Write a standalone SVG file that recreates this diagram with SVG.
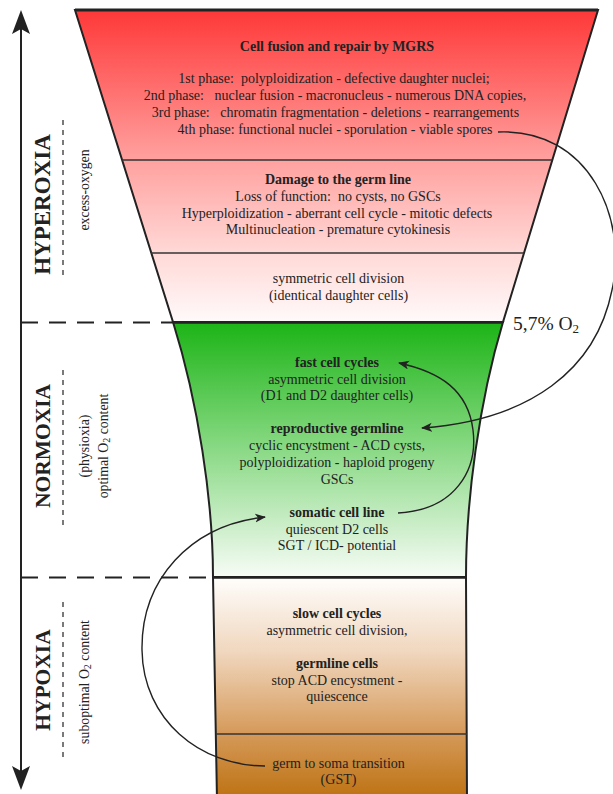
<svg xmlns="http://www.w3.org/2000/svg" width="613" height="794" viewBox="0 0 613 794">
<style>
text{font-family:"Liberation Serif","Times New Roman",serif;fill:#222;}
.t{font-size:14px;text-anchor:middle;white-space:pre;}
.b{font-weight:bold;}
.big{font-size:21.5px;font-weight:bold;text-anchor:middle;}
.sub{font-size:13.8px;text-anchor:middle;}
.edge{stroke:#222;stroke-width:2;}
.sep{fill:none;stroke:#333;stroke-width:1.3;}
.conn{fill:none;stroke:#222;stroke-width:1.4;}
.dash{fill:none;stroke:#222;stroke-width:2.2;stroke-dasharray:17 11;}
.vdash{fill:none;stroke:#333;stroke-width:1.3;stroke-dasharray:5 5;}
</style>
<defs>
<linearGradient id="gRed" x1="0" y1="10" x2="0" y2="322" gradientUnits="userSpaceOnUse">
<stop offset="0" stop-color="#fe3838"/>
<stop offset="0.48" stop-color="#ffa19f"/>
<stop offset="0.78" stop-color="#ffd9d7"/>
<stop offset="1" stop-color="#fffafa"/>
</linearGradient>
<linearGradient id="gGreen" x1="0" y1="322" x2="0" y2="577" gradientUnits="userSpaceOnUse">
<stop offset="0" stop-color="#1cb416"/>
<stop offset="0.45" stop-color="#7fd67a"/>
<stop offset="1" stop-color="#f7fcf6"/>
</linearGradient>
<linearGradient id="gBrown" x1="0" y1="577" x2="0" y2="794" gradientUnits="userSpaceOnUse">
<stop offset="0" stop-color="#fffefc"/>
<stop offset="0.35" stop-color="#f0d6bd"/>
<stop offset="0.72" stop-color="#d59a5a"/>
<stop offset="1" stop-color="#bf7416"/>
</linearGradient>
<marker id="arr" markerWidth="12" markerHeight="10" refX="10" refY="4.5" orient="auto" markerUnits="userSpaceOnUse">
<path d="M0,0 L11,4.5 L0,9 L3,4.5 Z" fill="#222"/>
</marker>
</defs>

<g id="scale">
<line x1="21" y1="28" x2="21" y2="772" stroke="#222" stroke-width="2"/>
<path d="M21,10 L30,34 L21,29 L12,34 Z" fill="#222"/>
<path d="M21,790 L30,766 L21,771 L12,766 Z" fill="#222"/>
<line class="dash" x1="21" y1="322.5" x2="173" y2="322.5"/>
<line class="dash" x1="21" y1="577.5" x2="213" y2="577.5"/>
</g>

<g id="hyperoxia-label">
<text class="big" transform="translate(50,204.5) rotate(-90)" style="font-size:23px">HYPEROXIA</text>
<line class="vdash" x1="63" y1="120" x2="63" y2="275"/>
<text class="sub" transform="translate(89,190) rotate(-90)">excess-oxygen</text>
</g>

<g id="normoxia-label">
<text class="big" transform="translate(50,446) rotate(-90)">NORMOXIA</text>
<line class="vdash" x1="63" y1="370" x2="63" y2="525"/>
<text class="sub" transform="translate(89,446) rotate(-90)">(physioxia)</text>
<text class="sub" transform="translate(108,446) rotate(-90)">optimal O<tspan font-size="10" dy="2">2</tspan><tspan dy="-2"> content</tspan></text>
</g>

<g id="hypoxia-label">
<text class="big" transform="translate(50,680) rotate(-90)">HYPOXIA</text>
<line class="vdash" x1="63" y1="602" x2="63" y2="758"/>
<text class="sub" transform="translate(89,682) rotate(-90)">suboptimal O<tspan font-size="10" dy="2">2</tspan><tspan dy="-2"> content</tspan></text>
</g>

<g id="hyperoxia-zone">
<path d="M75,10 L598,10 L503,322 L173,322 Z" fill="url(#gRed)" class="edge"/>
<line x1="75" y1="10" x2="598" y2="10" stroke="#222" stroke-width="3"/>
<line class="sep" x1="122" y1="160" x2="552" y2="160"/>
<line class="sep" x1="151" y1="253" x2="524" y2="253"/>
</g>

<g id="node-mgrs">
<text class="t b" x="337" y="51">Cell fusion and repair by MGRS</text>
<text class="t" x="334" y="83">1st phase:  polyploidization - defective daughter nuclei;</text>
<text class="t" x="335" y="100">2nd phase:   nuclear fusion - macronucleus - numerous DNA copies,</text>
<text class="t" x="335.5" y="117">3rd phase:   chromatin fragmentation - deletions - rearrangements</text>
<text class="t" x="335" y="134">4th phase: functional nuclei - sporulation - viable spores</text>
</g>

<g id="node-damage">
<text class="t b" x="338" y="184">Damage to the germ line</text>
<text class="t" x="338" y="201">Loss of function:  no cysts, no GSCs</text>
<text class="t" x="337" y="218">Hyperploidization - aberrant cell cycle - mitotic defects</text>
<text class="t" x="338" y="234">Multinucleation - premature cytokinesis</text>
</g>

<g id="node-symmetric">
<text class="t" x="338.5" y="283">symmetric cell division</text>
<text class="t" x="338.5" y="300">(identical daughter cells)</text>
</g>

<g id="normoxia-zone">
<path d="M173,322 L503,322 C479,402 466,500 466,577 L213,577 C213,500 198,402 173,322 Z" fill="url(#gGreen)" class="edge"/>
<line x1="173" y1="322.5" x2="503" y2="322.5" stroke="#222" stroke-width="2.5"/>
</g>

<g id="node-fast">
<text class="t b" x="337" y="367">fast cell cycles</text>
<text class="t" x="337" y="384">asymmetric cell division</text>
<text class="t" x="337" y="400">(D1 and D2 daughter cells)</text>
</g>

<g id="node-reproductive">
<text class="t b" x="337" y="433">reproductive germline</text>
<text class="t" x="337" y="450">cyclic encystment - ACD cysts,</text>
<text class="t" x="337" y="467">polyploidization - haploid progeny</text>
<text class="t" x="337" y="484">GSCs</text>
</g>

<g id="node-somatic">
<text class="t b" x="337" y="517">somatic cell line</text>
<text class="t" x="337" y="534">quiescent D2 cells</text>
<text class="t" x="337" y="550">SGT / ICD- potential</text>
</g>

<g id="hypoxia-zone">
<path d="M213,577 L466,577 L467,800 L217,800 Z" fill="url(#gBrown)" class="edge"/>
<line x1="213" y1="577.5" x2="466" y2="577.5" stroke="#222" stroke-width="2.5"/>
<line class="sep" x1="216" y1="734" x2="467" y2="734"/>
</g>

<g id="node-slow">
<text class="t b" x="337" y="618">slow cell cycles</text>
<text class="t" x="337" y="635">asymmetric cell division,</text>
<text class="t b" x="337" y="668">germline cells</text>
<text class="t" x="337" y="685">stop ACD encystment -</text>
<text class="t" x="337" y="701">quiescence</text>
</g>

<g id="node-gst">
<text class="t" x="338.5" y="768">germ to soma transition</text>
<text class="t" x="338.5" y="784">(GST)</text>
</g>

<g id="o2-label">
<text x="513" y="330" style="font-size:19.5px">5,7% O<tspan font-size="13" dy="3">2</tspan></text>
</g>

<g id="connectors">
<path class="conn" marker-end="url(#arr)" d="M498,132 C590,128 628,220 612,290 C596,370 530,420 422,428"/>
<path class="conn" marker-end="url(#arr)" d="M398,513 C455,510 478,470 473,430 C468,390 440,372 399,363"/>
<path class="conn" marker-end="url(#arr)" d="M265,766 C200,766 143,720 142,650 C141,580 190,525 265,517"/>
</g>
</svg>
